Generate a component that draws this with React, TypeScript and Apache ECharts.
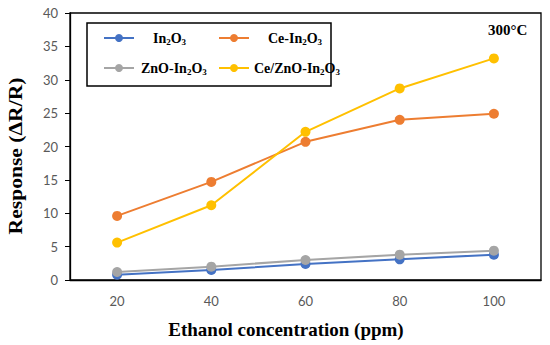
import React, { useEffect, useRef } from "react";
import * as echarts from "echarts";

const categories = ["20", "40", "60", "80", "100"];
const in2o3 = [0.8, 1.5, 2.4, 3.1, 3.8];
const ceIn2o3 = [9.6, 14.7, 20.7, 24.0, 24.9];
const znoIn2o3 = [1.2, 2.0, 3.0, 3.8, 4.4];
const ceZnoIn2o3 = [5.6, 11.2, 22.2, 28.7, 33.2];
const yTicks = { min: 0, max: 40, interval: 5 };
const xTitle = "Ethanol concentration (ppm)";
const yTitle = "Response (ΔR/R)";

const serif = "'Liberation Serif', 'Times New Roman', serif";
const sans = "Lato, 'Open Sans', sans-serif";

const rich = {
  b: { fontFamily: serif, fontWeight: "bold" as const, fontSize: 14, color: "#000" },
  s: { fontFamily: serif, fontWeight: "bold" as const, fontSize: 9, color: "#000", padding: [7, 0, 0, 0] },
  p14: { width: 14, fontSize: 14 },
  p2: { width: 2, fontSize: 14 },
};

const pads: Record<string, string> = {
  In2O3: "p14",
  "ZnO-In2O3": "p2",
  "Ce-In2O3": "p14",
};

const fmt = (name: string) => {
  const parts = name.split(/(\d)/).filter((p) => p.length > 0);
  const body = parts.map((p) => (/\d/.test(p) ? `{s|${p}}` : `{b|${p}}`)).join("");
  return pads[name] ? `{${pads[name]}| }` + body : body;
};

function measure(text: string, font: string) {
  const c = document.createElement("canvas").getContext("2d");
  if (!c) return 140;
  c.font = font;
  return c.measureText(text).width || 140;
}

export default function App() {
  const ref = useRef<HTMLDivElement>(null);
  useEffect(() => {
    const chart = echarts.init(ref.current!, undefined, { renderer: "svg" });
    const mk = (name: string, data: number[], color: string) => ({
      name,
      type: "line",
      data,
      symbol: "circle",
      symbolSize: 10,
      lineStyle: { color, width: 2 },
      itemStyle: { color },
      color,
    });
    const legendBase = {
      orient: "vertical",
      top: 26,
      itemWidth: 30,
      itemHeight: 10,
      itemGap: 15,
      formatter: fmt,
      textStyle: { rich },
    };
    const titleFont = `bold 19px ${serif}`;
    const yLen = measure(yTitle, titleFont);
    const yScale = 157 / yLen;
    chart.setOption({
      animation: false,
      backgroundColor: "#fff",
      grid: { left: 70, right: 9, top: 13, bottom: 65, show: true, borderColor: "#000", borderWidth: 1.3 },
      legend: [
        { ...legendBase, data: ["In2O3", "ZnO-In2O3"], left: 98 },
        { ...legendBase, data: ["Ce-In2O3", "Ce/ZnO-In2O3"], left: 213 },
      ],
      graphic: [
        {
          type: "rect",
          shape: { x: 87, y: 23, width: 244, height: 63 },
          style: { fill: "none", stroke: "#000", lineWidth: 1.5 },
          z: 10,
        },
        {
          type: "text",
          left: 488,
          top: 22,
          style: { text: "300°C", font: `bold 15px ${serif}`, fill: "#000" },
        },
        {
          type: "text",
          x: 286,
          y: 329,
          style: { text: xTitle, font: titleFont, fill: "#000", align: "center", verticalAlign: "middle" },
        },
        {
          type: "text",
          x: 15,
          y: 156,
          rotation: Math.PI / 2,
          scaleX: yScale,
          style: { text: yTitle, font: titleFont, fill: "#000", align: "center", verticalAlign: "middle" },
        },
      ],
      xAxis: {
        type: "category",
        data: categories,
        boundaryGap: true,
        axisLine: { lineStyle: { color: "#000", width: 1.3 } },
        axisTick: { show: false },
        axisLabel: { fontFamily: sans, fontSize: 13, color: "#595959", margin: 14 },
        splitLine: { show: false },
      },
      yAxis: {
        type: "value",
        min: yTicks.min,
        max: yTicks.max,
        interval: yTicks.interval,
        axisLine: { show: true, lineStyle: { color: "#000", width: 1.3 } },
        axisTick: { show: true, length: 5, lineStyle: { color: "#000" } },
        axisLabel: { fontFamily: sans, fontSize: 13, color: "#595959", margin: 12 },
        splitLine: { show: false },
      },
      series: [
        mk("In2O3", in2o3, "#4472C4"),
        mk("Ce-In2O3", ceIn2o3, "#ED7D31"),
        mk("ZnO-In2O3", znoIn2o3, "#A5A5A5"),
        mk("Ce/ZnO-In2O3", ceZnoIn2o3, "#FFC000"),
      ],
    });
    return () => chart.dispose();
  }, []);
  return <div ref={ref} style={{ width: 550, height: 345, position: "absolute", left: 0, top: 0 }} />;
}
